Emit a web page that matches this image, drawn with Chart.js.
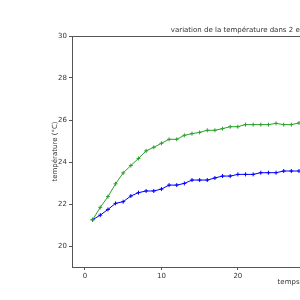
<!DOCTYPE html>
<html>
<head>
<meta charset="utf-8">
<script src="https://cdn.jsdelivr.net/npm/chart.js@4"></script>
<style>
  html, body { margin: 0; padding: 0; background: #fff; overflow: hidden; width: 300px; height: 300px; }
  canvas { display: block; }
</style>
</head>
<body>
<canvas id="tempChart" width="560" height="300"></canvas>
<script>
// temps (min) and temperatures
const temps = [1, 2, 3, 4, 5, 6, 7, 8, 9, 10, 11, 12, 13, 14, 15, 16, 17, 18, 19, 20, 21, 22, 23, 24, 25, 26, 27, 28];
const enceinte1 = [21.25, 21.84, 22.35, 22.96, 23.48, 23.83, 24.17, 24.53, 24.70, 24.89, 25.08, 25.08, 25.27, 25.35, 25.41, 25.51, 25.51, 25.59, 25.68, 25.68, 25.78, 25.78, 25.78, 25.78, 25.84, 25.78, 25.78, 25.86];
const enceinte2 = [21.25, 21.47, 21.74, 22.03, 22.11, 22.38, 22.54, 22.62, 22.62, 22.71, 22.90, 22.90, 22.98, 23.14, 23.14, 23.14, 23.24, 23.33, 23.33, 23.41, 23.41, 23.41, 23.49, 23.49, 23.49, 23.57, 23.57, 23.57];
const xTicks = [0, 10, 20, 30, 40, 50];
const yTicks = [20, 22, 24, 26, 28, 30];

const toPoints = (ys) => ys.map((y, i) => ({x: temps[i], y: y}));

const axisColor = '#555';
const textColor = '#333';
const tickFont = {family: 'DejaVu Sans', size: 7};

// titre + cadre complet (matplotlib draws all four spines)
const framePlugin = {
    id: 'frame',
    afterDraw(chart) {
        const {ctx, chartArea} = chart;
        ctx.save();
        ctx.strokeStyle = axisColor;
        ctx.lineWidth = 1;
        ctx.strokeRect(chartArea.left + 0.5, chartArea.top + 0.5, chartArea.right - chartArea.left, chartArea.bottom - chartArea.top);
        ctx.fillStyle = textColor;
        ctx.font = '7px "DejaVu Sans"';
        ctx.textAlign = 'center';
        ctx.textBaseline = 'alphabetic';
        ctx.fillText('variation de la température dans 2 enceintes en fonction du temps (min)', (chartArea.left + chartArea.right) / 2, chartArea.top - 4);
        ctx.restore();
    }
};

new Chart(document.getElementById('tempChart').getContext('2d'), {
    type: 'line',
    data: {
        datasets: [
            {
                label: 'enceinte 1',
                data: toPoints(enceinte1),
                borderColor: '#2ca02c',
                backgroundColor: '#2ca02c',
                borderWidth: 1,
                pointStyle: 'cross',
                pointRadius: 2,
                pointBorderWidth: 1,
                tension: 0,
            },
            {
                label: 'enceinte 2',
                data: toPoints(enceinte2),
                borderColor: '#0000ff',
                backgroundColor: '#0000ff',
                borderWidth: 1,
                pointStyle: 'cross',
                pointRadius: 2,
                pointBorderWidth: 1,
                tension: 0,
            },
        ],
    },
    options: {
        responsive: false,
        animation: false,
        layout: {padding: {top: 36, right: 34, left: 0, bottom: 0}},
        plugins: {
            legend: {display: false},
            tooltip: {enabled: false},
        },
        scales: {
            x: {
                type: 'linear',
                min: -1.7,
                max: 57.7,
                afterBuildTicks: (scale) => { scale.ticks = xTicks.map(v => ({value: v})); },
                afterFit: (scale) => { scale.height = 33; },
                grid: {drawOnChartArea: false, drawTicks: true, tickLength: 3, color: axisColor},
                border: {display: true, color: axisColor},
                ticks: {font: tickFont, color: textColor, padding: 2, maxRotation: 0},
                title: {display: true, text: 'temps (min)', font: tickFont, color: textColor, padding: {top: 0, bottom: 14}},
            },
            y: {
                min: 19,
                max: 30,
                afterBuildTicks: (scale) => { scale.ticks = yTicks.map(v => ({value: v})); },
                afterFit: (scale) => { scale.width = 72; },
                grid: {drawOnChartArea: false, drawTicks: true, tickLength: 3, color: axisColor},
                border: {display: true, color: axisColor},
                ticks: {font: tickFont, color: textColor, padding: 2},
                title: {display: true, text: 'température (°C)', font: tickFont, color: textColor, padding: {top: 51, bottom: 0}},
            },
        },
    },
    plugins: [framePlugin],
});
</script>
</body>
</html>
